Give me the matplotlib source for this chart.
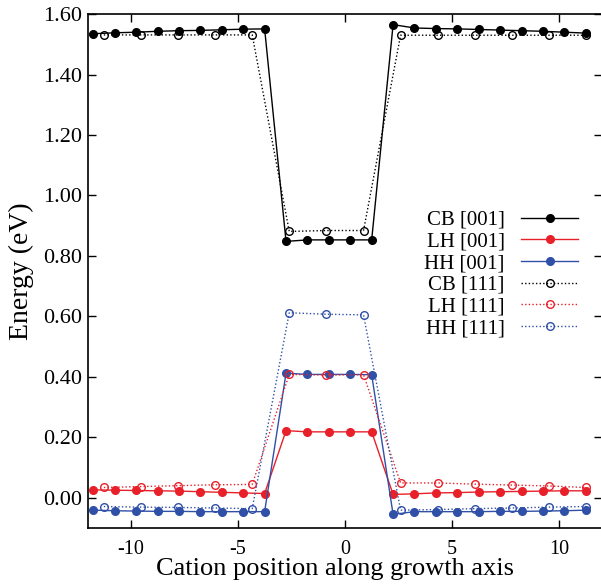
import matplotlib
matplotlib.use('Agg')
import matplotlib.pyplot as plt

plt.rcParams['font.family'] = ['Liberation Serif', 'DejaVu Serif']
plt.rcParams['axes.unicode_minus'] = False

# cation positions (growth axis units)
x001 = [-11.75, -10.75, -9.75, -8.75, -7.75, -6.75, -5.75, -4.75, -3.75,
        -2.75, -1.75, -0.75, 0.25, 1.25,
        2.25, 3.25, 4.25, 5.25, 6.25, 7.25, 8.25, 9.25, 10.25, 11.25]
x111 = [-11.26, -9.53, -7.79, -6.06, -4.33,
        -2.60, -0.87, 0.87,
        2.60, 4.33, 6.06, 7.79, 9.53, 11.26]

# band energies (eV)
cb001 = [1.535, 1.538, 1.540, 1.543, 1.545, 1.546, 1.548, 1.550, 1.551,
         0.848, 0.853, 0.853, 0.853, 0.853,
         1.565, 1.554, 1.552, 1.551, 1.549, 1.547, 1.545, 1.543, 1.540, 1.537]
lh001 = [0.026, 0.025, 0.024, 0.023, 0.022, 0.020, 0.018, 0.016, 0.014,
         0.222, 0.218, 0.218, 0.218, 0.218,
         0.011, 0.013, 0.016, 0.017, 0.019, 0.020, 0.021, 0.022, 0.023, 0.023]
hh001 = [-0.041, -0.043, -0.044, -0.045, -0.045, -0.046, -0.046, -0.046, -0.046,
         0.412, 0.408, 0.408, 0.408, 0.407,
         -0.055, -0.046, -0.046, -0.046, -0.046, -0.045, -0.045, -0.044, -0.043, -0.041]
cb111 = [1.531, 1.531, 1.531, 1.531, 1.531,
         0.881, 0.884, 0.884,
         1.530, 1.530, 1.530, 1.530, 1.530, 1.530]
lh111 = [0.034, 0.037, 0.040, 0.043, 0.044,
         0.408, 0.406, 0.407,
         0.049, 0.049, 0.045, 0.042, 0.039, 0.034]
hh111 = [-0.029, -0.031, -0.032, -0.034, -0.036,
         0.612, 0.607, 0.605,
         -0.041, -0.039, -0.036, -0.034, -0.031, -0.029]

red = '#e8202a'
blue = '#3050a8'
dot = (0, (1, 1.6))
ms = 5.5

fig = plt.figure(figsize=(6.01, 5.86), dpi=100)
ax = fig.add_axes([0.1464, 0.099, 0.855, 0.877])

ax.plot(x001, cb001, '-', color='black', lw=1, marker='o', ms=ms, label='CB [001]')
ax.plot(x001, lh001, '-', color=red, lw=1, marker='o', ms=ms, label='LH [001]')
ax.plot(x001, hh001, '-', color=blue, lw=1, marker='o', ms=ms, label='HH [001]')
ax.plot(x111, cb111, ls=dot, color='black', lw=1, marker='o', ms=ms, mfc='none', mew=1, label='CB [111]')
ax.plot(x111, lh111, ls=dot, color=red, lw=1, marker='o', ms=ms, mfc='none', mew=1, label='LH [111]')
ax.plot(x111, hh111, ls=dot, color=blue, lw=1, marker='o', ms=ms, mfc='none', mew=1, label='HH [111]')

ax.set_xlim(-12, 12)
ax.set_ylim(-0.1, 1.6)
ax.set_xticks([-10, -5, 0, 5, 10])
ax.set_yticks([0.0, 0.2, 0.4, 0.6, 0.8, 1.0, 1.2, 1.4, 1.6])
ax.set_yticklabels(['%.2f' % v for v in ax.get_yticks()])
ax.tick_params(direction='in', top=True, right=True, length=6, width=1)
ax.tick_params(axis='x', pad=9, labelsize=14.5)
ax.tick_params(axis='y', pad=4, labelsize=16)
for s in ax.spines.values():
    s.set_linewidth(1.2)

ax.set_xlabel('Cation position along growth axis', fontsize=19)
ax.xaxis.set_label_coords(0.48, -0.0914, transform=ax.transAxes)
ax.xaxis.label.set_va('baseline')
ax.set_ylabel('Energy (eV)', fontsize=20, labelpad=7)

leg = ax.legend(loc='upper right', bbox_to_anchor=(0.953, 0.618), frameon=False,
                markerfirst=False, fontsize=15, handlelength=2.7, handletextpad=0.8,
                labelspacing=0.1, borderpad=0, borderaxespad=0)

fig.savefig('out.png', dpi=100)
